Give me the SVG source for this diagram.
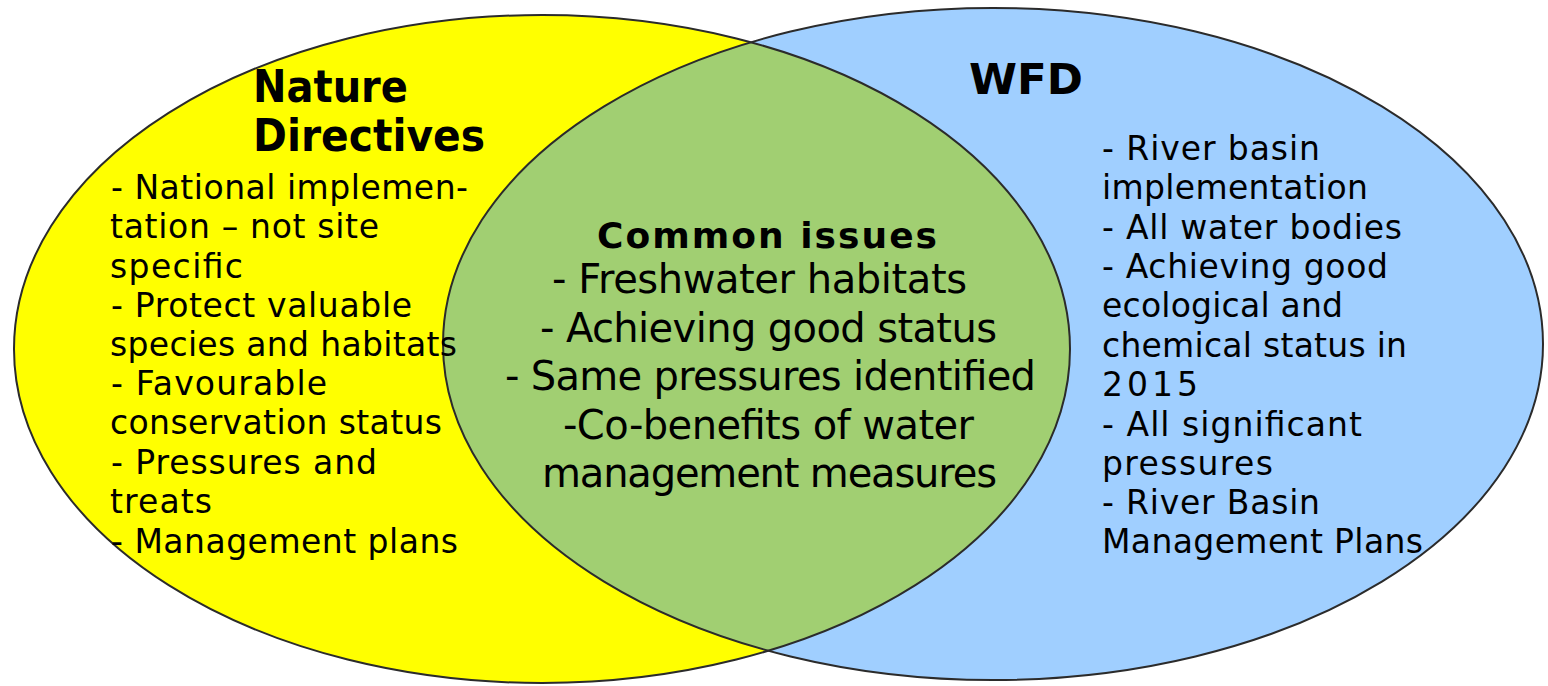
<svg xmlns="http://www.w3.org/2000/svg" width="1548" height="686" viewBox="0 0 1548 686">
  <style>
    .outline { fill: none; stroke: #2b2b2b; stroke-width: 2; }
    .title { font-family: "DejaVu Sans", Verdana, sans-serif; font-weight: bold; fill: #000; }
    .item { font-family: "DejaVu Sans", Verdana, sans-serif; fill: #000; }
    .side { font-size: 33px; }
    .mid { font-size: 40px; }
  </style>
  <defs>
    <clipPath id="clipYellow">
      <ellipse cx="542" cy="349" rx="528" ry="334"/>
    </clipPath>
  </defs>
  <rect x="0" y="0" width="1548" height="686" fill="#ffffff"/>

  <g id="nature-directives">
    <ellipse cx="542" cy="349" rx="528" ry="334" fill="#ffff00"/>
  </g>
  <g id="wfd">
    <ellipse cx="993" cy="344" rx="550" ry="336" fill="#a0cfff"/>
  </g>
  <g id="common-issues">
    <ellipse cx="993" cy="344" rx="550" ry="336" fill="#a1cf72" clip-path="url(#clipYellow)"/>
  </g>
  <g id="outlines">
    <ellipse class="outline" cx="542" cy="349" rx="528" ry="334"/>
    <ellipse class="outline" cx="993" cy="344" rx="550" ry="336"/>
  </g>

  <g id="nature-directives-text">
    <text class="title" font-size="44" x="253" y="102" textLength="155" lengthAdjust="spacingAndGlyphs">Nature</text>
    <text class="title" font-size="44" x="253" y="151" textLength="232" lengthAdjust="spacingAndGlyphs">Directives</text>
    <g class="item side">
      <text x="111" y="199" textLength="357" lengthAdjust="spacing">- National implemen-</text>
      <text x="110" y="238" textLength="269" lengthAdjust="spacing">tation – not site</text>
      <text x="110" y="278" textLength="133" lengthAdjust="spacing">specific</text>
      <text x="111" y="317" textLength="301" lengthAdjust="spacing">- Protect valuable</text>
      <text x="110" y="356" textLength="347" lengthAdjust="spacing">species and habitats</text>
      <text x="111" y="395" textLength="216" lengthAdjust="spacing">- Favourable</text>
      <text x="110" y="434" textLength="332" lengthAdjust="spacing">conservation status</text>
      <text x="111" y="474" textLength="266" lengthAdjust="spacing">- Pressures and</text>
      <text x="110" y="513" textLength="102" lengthAdjust="spacing">treats</text>
      <text x="111" y="553" textLength="347" lengthAdjust="spacing">- Management plans</text>
    </g>
  </g>

  <g id="common-issues-text">
    <text class="title" font-size="36" x="597" y="248" textLength="340" lengthAdjust="spacing">Common issues</text>
    <g class="item mid">
      <text x="552" y="293" textLength="415" lengthAdjust="spacing">- Freshwater habitats</text>
      <text x="540" y="342" textLength="457" lengthAdjust="spacing">- Achieving good status</text>
      <text x="505" y="390" textLength="531" lengthAdjust="spacing">- Same pressures identified</text>
      <text x="563" y="439" textLength="411" lengthAdjust="spacing">-Co-benefits of water</text>
      <text x="542" y="487" textLength="455" lengthAdjust="spacing">management measures</text>
    </g>
  </g>

  <g id="wfd-text">
    <text class="title" font-size="42" x="969" y="94" textLength="114" lengthAdjust="spacingAndGlyphs">WFD</text>
    <g class="item side">
      <text x="1102" y="160" textLength="218" lengthAdjust="spacing">- River basin</text>
      <text x="1102" y="199" textLength="266" lengthAdjust="spacing">implementation</text>
      <text x="1102" y="239" textLength="300" lengthAdjust="spacing">- All water bodies</text>
      <text x="1102" y="278" textLength="286" lengthAdjust="spacing">- Achieving good</text>
      <text x="1102" y="317" textLength="241" lengthAdjust="spacing">ecological and</text>
      <text x="1102" y="357" textLength="305" lengthAdjust="spacing">chemical status in</text>
      <text x="1102" y="396" textLength="96" lengthAdjust="spacing">2015</text>
      <text x="1102" y="436" textLength="260" lengthAdjust="spacing">- All significant</text>
      <text x="1102" y="475" textLength="171" lengthAdjust="spacing">pressures</text>
      <text x="1102" y="514" textLength="218" lengthAdjust="spacing">- River Basin</text>
      <text x="1102" y="553" textLength="321" lengthAdjust="spacing">Management Plans</text>
    </g>
  </g>
</svg>
